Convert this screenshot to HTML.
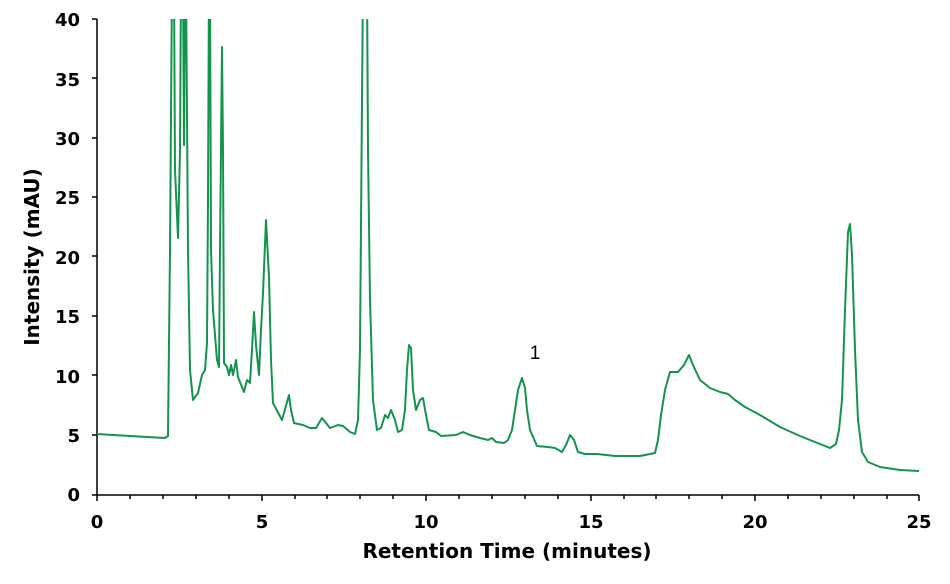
<!DOCTYPE html>
<html><head><meta charset="utf-8"><style>
body{margin:0;background:#fff;}
svg{display:block;font-family:"DejaVu Sans","Liberation Sans",sans-serif;}
</style></head><body>
<svg width="950" height="584" viewBox="0 0 950 584">
<defs><clipPath id="c"><rect x="97" y="19" width="830" height="480"/></clipPath></defs>
<g font-size="18" font-weight="bold" fill="#000" text-anchor="end">
<text x="80" y="501">0</text><text x="80" y="442">5</text><text x="80" y="383">10</text>
<text x="80" y="323">15</text><text x="80" y="264">20</text><text x="80" y="204">25</text>
<text x="80" y="145">30</text><text x="80" y="86">35</text><text x="80" y="26">40</text>
</g>
<g font-size="18" font-weight="bold" text-anchor="middle">
<text x="97" y="528">0</text><text x="262" y="528">5</text><text x="426" y="528">10</text>
<text x="591" y="528">15</text><text x="755" y="528">20</text><text x="919" y="528">25</text>
</g>
<g font-size="20" font-weight="bold" text-anchor="middle">
<text x="507" y="558">Retention Time (minutes)</text>
<text transform="translate(39,257) rotate(-90)">Intensity (mAU)</text>
</g>
<g stroke="#000" stroke-width="1.5" fill="none">
<path d="M97 19V495M92 495H919"/>
<path d="M92 19H97M92 78H97M92 138H97M92 197H97M92 256H97M92 316H97M92 375H97M92 435H97"/>
<path d="M97 495v6M130 495v4M163 495v4M196 495v4M229 495v4M262 495v6M295 495v4M327 495v4M360 495v4M393 495v4M426 495v6M459 495v4M492 495v4M525 495v4M558 495v4M591 495v6M624 495v4M656 495v4M689 495v4M722 495v4M755 495v6M788 495v4M821 495v4M854 495v4M887 495v4M919 495v6"/>
</g>
<text x="535" y="359" font-size="19" text-anchor="middle" font-family="Liberation Sans,sans-serif">1</text>
<polyline clip-path="url(#c)" fill="none" stroke="#14934f" stroke-width="2" stroke-linejoin="round" points="
97,434 130,436 165,438 168,436 170,250 172,-20 174,-20 175,170 178,238 180,150 181,-20 183,-20 184,145 185,-20 186,-20 188,250 190,370 193,400 198,393 202,375 205,370 207,343 208,200 209,-20 210,-20 211,250 213,310 217,360 219,367 220,250 222,47 223,150 224,363 227,367 229,375 231,365 233,375 236,360 238,377 244,392 247,380 250,383 252,350 254,312 256,345 259,375 261,330 263,293 266,220 269,277 271,360 273,403 282,420 289,395 291,410 294,423 303,425 310,428 316,428 322,418 326,423 330,428 338,425 343,426 350,432 355,434 358,420 360,350 362,100 363,-20 367,-20 368,150 370,300 373,400 377,430 381,428 385,415 388,418 391,410 395,420 398,432 402,430 405,410 407,370 409,345 411,348 413,390 416,410 420,400 423,398 426,415 429,430 436,432 441,436 456,435 463,432 470,435 480,438 488,440 492,438 496,442 504,443 508,440 512,430 515,410 518,390 522,378 525,388 527,410 530,430 537,446 548,447 555,448 562,452 566,445 570,435 574,440 578,452 585,454 597,454 615,456 640,456 655,453 658,440 661,415 665,390 670,372 678,372 684,365 689,355 693,365 700,380 710,388 720,392 728,394 735,400 745,407 760,415 770,421 780,427 800,436 820,444 830,448 836,444 839,430 842,400 845,310 848,232 850,224 852,255 855,350 858,420 862,452 868,462 880,467 900,470 919,471"/>
</svg>
</body></html>
